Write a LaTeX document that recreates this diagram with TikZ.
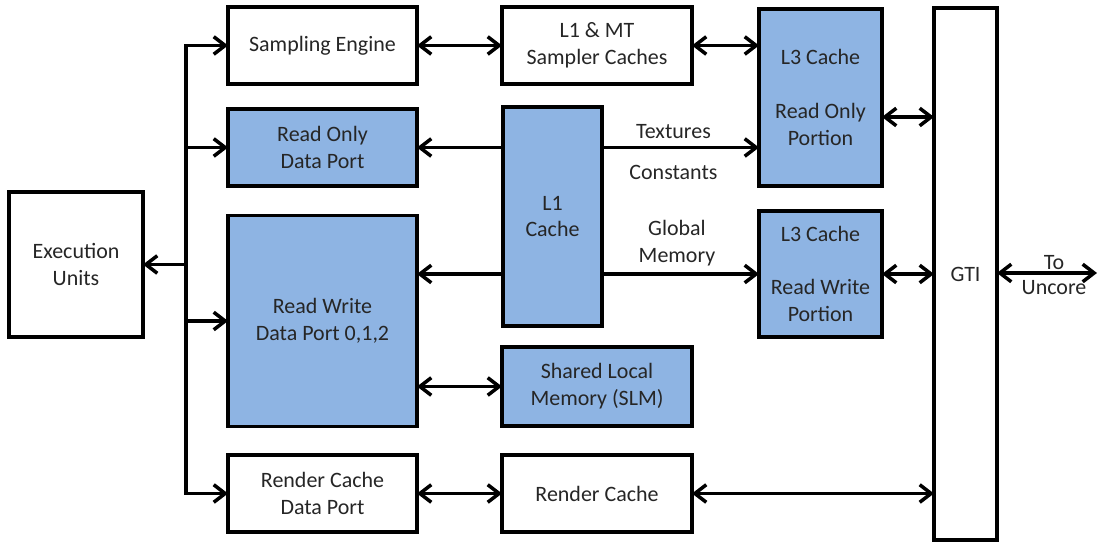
\documentclass[tikz,border=0pt]{standalone}
\usepackage{fontspec}
\setmainfont{Carlito}
\usetikzlibrary{arrows.meta}
\definecolor{cacheblue}{HTML}{8EB4E3}
\definecolor{txtgray}{HTML}{262626}

\begin{document}
\begin{tikzpicture}[x=0.02cm, y=-0.02cm,
    blk/.style={draw, line width=1.9pt, fill=white, text=txtgray, align=center,
      inner sep=0pt, outer sep=0pt, font=\fontsize{12.5}{15.3}\selectfont},
    cachebox/.style={blk, fill=cacheblue},
    lbl/.style={text=txtgray, align=center, font=\fontsize{12.5}{15.3}\selectfont},
    arr/.style={line width=2pt, -{Straight Barb[length=6.5pt,width=10pt]}},
    link/.style={line width=2pt, {Straight Barb[length=6.5pt,width=10pt]}-{Straight Barb[length=6.5pt,width=10pt]}}]
  \useasboundingbox (0,0) rectangle (1100,543);

  % execution units and the ports
  \node[blk, minimum width=2.68cm, minimum height=2.9cm] (eu) at (76,264.5) {Execution\\Units};
  \node[blk, minimum width=3.78cm, minimum height=1.54cm] (se) at (322.5,45.5) {Sampling Engine};
  \node[cachebox, minimum width=3.78cm, minimum height=1.54cm] (rodp) at (322.5,147.5) {Read Only\\Data Port};
  \node[cachebox, minimum width=3.78cm, minimum height=4.22cm] (rwdp) at (322.5,321) {Read Write\\Data Port 0,1,2};
  \node[blk, minimum width=3.78cm, minimum height=1.54cm] (rcdp) at (322.5,493.5) {Render Cache\\Data Port};

  % caches
  \node[blk, minimum width=3.8cm, minimum height=1.54cm] (l1mt) at (597,45.5) {L1 \& MT\\Sampler Caches};
  \node[cachebox, minimum width=1.98cm, minimum height=4.38cm] (l1) at (552.5,216.5) {L1\\Cache};
  \node[cachebox, minimum width=3.8cm, minimum height=1.58cm] (slm) at (597,386.5) {Shared Local\\Memory (SLM)};
  \node[blk, minimum width=3.8cm, minimum height=1.54cm] (rc) at (597,493.5) {Render Cache};
  \node[cachebox, minimum width=2.46cm, minimum height=3.54cm] (l3ro) at (820.5,97.5) {L3 Cache\\[15.3pt]Read Only\\Portion};
  \node[cachebox, minimum width=2.46cm, minimum height=2.52cm] (l3rw) at (820.5,274) {L3 Cache\\[15.3pt]Read Write\\Portion};
  \node[blk, minimum width=1.26cm, minimum height=10.64cm] (gti) at (965.5,274) {GTI};

  % bus from the execution units
  \coordinate (bus) at (186,0);
  \coordinate (unc) at (1097,273);
  \draw[arr] (rcdp.west -| bus) |- (se.west);
  \draw[arr] (se.west -| bus) |- (rcdp.west);
  \draw[arr] (rodp.west -| bus) -- (rodp.west);
  \draw[arr] (rwdp.west -| bus) -- (rwdp.west);
  \draw[arr] (eu.east -| bus) -- (eu.east);

  % sampler path
  \draw[link] (se.east) -- (l1mt.west);
  \draw[link] (l1mt.east) -- (l1mt.east -| l3ro.west);

  % L1 cache
  \draw[arr] (rodp.east -| l1.west) -- (rodp.east);
  \draw[arr] (rodp.east -| l1.east) -- node[lbl, above, xshift=-4, inner sep=4pt] {Textures}
    node[lbl, below, xshift=-4, inner sep=9pt] {Constants} (rodp.east -| l3ro.west);
  \draw[arr] (l3rw.west -| l1.west) -- (l3rw.west -| rwdp.east);
  \draw[arr] (l3rw.west -| l1.east) -- node[lbl, above, xshift=-2] {Global\\Memory} (l3rw.west);
  \draw[link] (slm.west -| rwdp.east) -- (slm.west);

  % render cache
  \draw[link] (rcdp.east) -- (rc.west);
  \draw[link] (rc.east) -- (rc.east -| gti.west);

  % to GTI and uncore
  \draw[link] ([yshift=-0.39cm]l3ro.east) -- ([yshift=-0.39cm]l3ro.east -| gti.west);
  \draw[link] (l3rw.east) -- (l3rw.east -| gti.west);
  \draw[link] (gti.east |- unc) -- node[lbl, above, xshift=4, inner sep=1pt] {To}
    node[lbl, below, xshift=4, inner sep=3pt] {Uncore} (unc);
\end{tikzpicture}
\end{document}
